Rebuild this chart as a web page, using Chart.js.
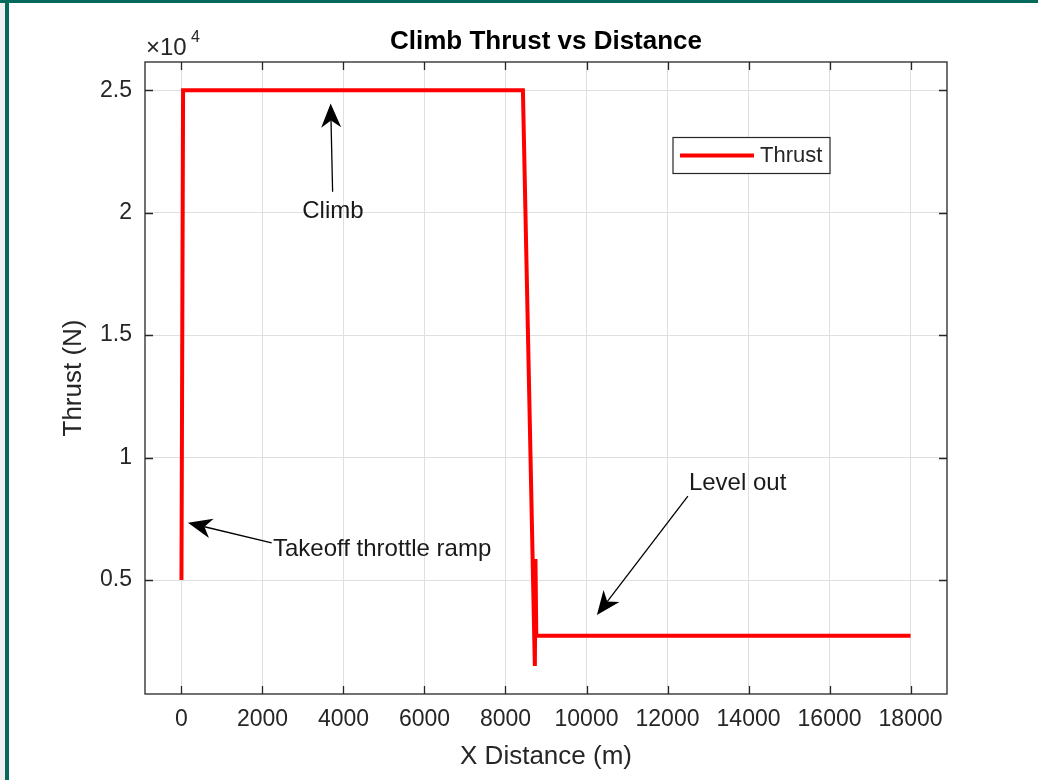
<!DOCTYPE html>
<html>
<head>
<meta charset="utf-8">
<title>Climb Thrust vs Distance</title>
<script src="https://cdn.jsdelivr.net/npm/chart.js@4.4.1/dist/chart.umd.min.js"></script>
<style>
  html, body { margin: 0; padding: 0; background: #fff; }
  #wrap { position: relative; width: 1038px; height: 780px; overflow: hidden; background: #fff; }
  #wrap canvas { position: absolute; left: 0; top: 0; }
  .strip { position: absolute; left: 0; top: 0; width: 5px; height: 780px; background: #f0f0f0; }
  .bar-left { position: absolute; left: 5px; top: 0; width: 4px; height: 780px; background: #05695c; }
  .bar-top { position: absolute; left: 0; top: 0; width: 1038px; height: 3px; background: #05695c; }
</style>
</head>
<body>
<div id="wrap">
  <canvas id="thrust-chart" width="1038" height="780"></canvas>
  <div class="strip"></div>
  <div class="bar-left"></div>
  <div class="bar-top"></div>
</div>
<script>
// distance along the flight path (m) and engine thrust (N)
const distance = [0, 40, 8430, 8725, 8740, 8760, 18000];
const thrust = [5000, 25000, 25000, 1490, 5860, 2730, 2730];

const xTicks = [0, 2000, 4000, 6000, 8000, 10000, 12000, 14000, 16000, 18000];
const yTicks = [5000, 10000, 15000, 20000, 25000];
const xLimits = [-900, 18900];
const yLimits = [350, 26150];

// text notes with arrows, in data units
const notes = [
  { text: 'Climb', tail: [3732, 20849], tip: [3683, 24457], at: [3740, 20061], align: 'center' },
  { text: 'Takeoff throttle ramp', tail: [2227, 6522], tip: [160, 7339], at: [2259, 6265], align: 'left' },
  { text: 'Level out', tail: [12503, 8429], tip: [10257, 3571], at: [12528, 8959], align: 'left' },
];

const FONT = '"Liberation Sans", Arial, Helvetica, sans-serif';
const AXIS = '#262626';
const GRID = '#dfdfdf';
const RED = '#ff0000';

function arrow(ctx, x0, y0, x1, y1) {
  const ang = Math.atan2(y1 - y0, x1 - x0);
  const len = 24, notch = 17, half = 10;
  const cos = Math.cos(ang), sin = Math.sin(ang);
  const bx = x1 - notch * cos, by = y1 - notch * sin;
  ctx.beginPath();
  ctx.moveTo(x0, y0);
  ctx.lineTo(bx, by);
  ctx.lineWidth = 1.3;
  ctx.strokeStyle = '#000';
  ctx.stroke();
  ctx.beginPath();
  ctx.moveTo(x1, y1);
  ctx.lineTo(x1 - len * cos + half * sin, y1 - len * sin - half * cos);
  ctx.lineTo(bx, by);
  ctx.lineTo(x1 - len * cos - half * sin, y1 - len * sin + half * cos);
  ctx.closePath();
  ctx.fillStyle = '#000';
  ctx.fill();
}

const matlabFrame = {
  id: 'matlabFrame',
  afterDatasetsDraw(chart) {
    const { ctx, chartArea: a, scales: { x, y } } = chart;
    ctx.save();

    // axes box with inward ticks on all four sides
    ctx.strokeStyle = AXIS;
    ctx.lineWidth = 1.3;
    ctx.strokeRect(a.left, a.top, a.right - a.left, a.bottom - a.top);
    ctx.beginPath();
    xTicks.forEach((v) => {
      const px = Math.round(x.getPixelForValue(v)) + 0.5;
      ctx.moveTo(px, a.bottom); ctx.lineTo(px, a.bottom - 8);
      ctx.moveTo(px, a.top); ctx.lineTo(px, a.top + 8);
    });
    yTicks.forEach((v) => {
      const py = Math.round(y.getPixelForValue(v)) + 0.5;
      ctx.moveTo(a.left, py); ctx.lineTo(a.left + 8, py);
      ctx.moveTo(a.right, py); ctx.lineTo(a.right - 8, py);
    });
    ctx.stroke();

    // exponent above the y axis
    ctx.fillStyle = AXIS;
    ctx.textBaseline = 'middle';
    ctx.textAlign = 'left';
    ctx.font = `24px ${FONT}`;
    ctx.fillText('\u00d710', a.left + 1, 48);
    ctx.font = `16px ${FONT}`;
    ctx.fillText('4', a.left + 46, 38);

    // title and axis labels
    const cx = (a.left + a.right) / 2;
    ctx.textAlign = 'center';
    ctx.fillStyle = '#000';
    ctx.font = `bold 26px ${FONT}`;
    ctx.fillText('Climb Thrust vs Distance', cx, 42);
    ctx.fillStyle = AXIS;
    ctx.font = `26px ${FONT}`;
    ctx.fillText('X Distance (m)', cx, 757);
    ctx.save();
    ctx.translate(74, (a.top + a.bottom) / 2);
    ctx.rotate(-Math.PI / 2);
    ctx.fillText('Thrust (N)', 0, 0);
    ctx.restore();

    // legend
    const ds = chart.data.datasets[0];
    ctx.fillStyle = '#fff';
    ctx.fillRect(673, 137.5, 157, 36);
    ctx.strokeStyle = AXIS;
    ctx.lineWidth = 1.2;
    ctx.strokeRect(673, 137.5, 157, 36);
    ctx.beginPath();
    ctx.moveTo(680, 155.5); ctx.lineTo(754, 155.5);
    ctx.strokeStyle = ds.borderColor;
    ctx.lineWidth = 4;
    ctx.stroke();
    ctx.fillStyle = AXIS;
    ctx.textAlign = 'left';
    ctx.font = `22px ${FONT}`;
    ctx.fillText(ds.label, 760, 156);

    // notes
    notes.forEach((n) => {
      arrow(ctx,
        x.getPixelForValue(n.tail[0]), y.getPixelForValue(n.tail[1]),
        x.getPixelForValue(n.tip[0]), y.getPixelForValue(n.tip[1]));
      ctx.fillStyle = '#1a1a1a';
      ctx.font = `24px ${FONT}`;
      ctx.textAlign = n.align;
      ctx.fillText(n.text, x.getPixelForValue(n.at[0]), y.getPixelForValue(n.at[1]));
    });

    ctx.restore();
  },
};

new Chart(document.getElementById('thrust-chart'), {
  type: 'scatter',
  data: {
    datasets: [{
      label: 'Thrust',
      data: distance.map((d, i) => ({ x: d, y: thrust[i] })),
      showLine: true,
      borderColor: RED,
      backgroundColor: RED,
      borderWidth: 4,
      borderJoinStyle: 'miter',
      pointRadius: 0,
      tension: 0,
    }],
  },
  options: {
    responsive: false,
    animation: false,
    layout: { padding: { left: 0, top: 62, right: 91, bottom: 0 } },
    plugins: {
      legend: { display: false },
      title: { display: false },
      tooltip: { enabled: false },
    },
    scales: {
      x: {
        type: 'linear',
        min: xLimits[0],
        max: xLimits[1],
        afterBuildTicks: (scale) => { scale.ticks = xTicks.map((v) => ({ value: v })); },
        afterFit: (scale) => { scale.height = 86; },
        grid: { color: GRID, lineWidth: 1, drawTicks: false },
        border: { display: false },
        ticks: {
          color: AXIS,
          font: { family: FONT, size: 23 },
          padding: 12,
          maxRotation: 0,
          autoSkip: false,
          callback: (v) => String(v),
        },
      },
      y: {
        type: 'linear',
        min: yLimits[0],
        max: yLimits[1],
        afterBuildTicks: (scale) => { scale.ticks = yTicks.map((v) => ({ value: v })); },
        afterFit: (scale) => { scale.width = 145; },
        grid: { color: GRID, lineWidth: 1, drawTicks: false },
        border: { display: false },
        ticks: {
          color: AXIS,
          font: { family: FONT, size: 23 },
          padding: 13,
          autoSkip: false,
          callback: (v) => String(v / 1e4),
        },
      },
    },
  },
  plugins: [matlabFrame],
});
</script>
</body>
</html>
